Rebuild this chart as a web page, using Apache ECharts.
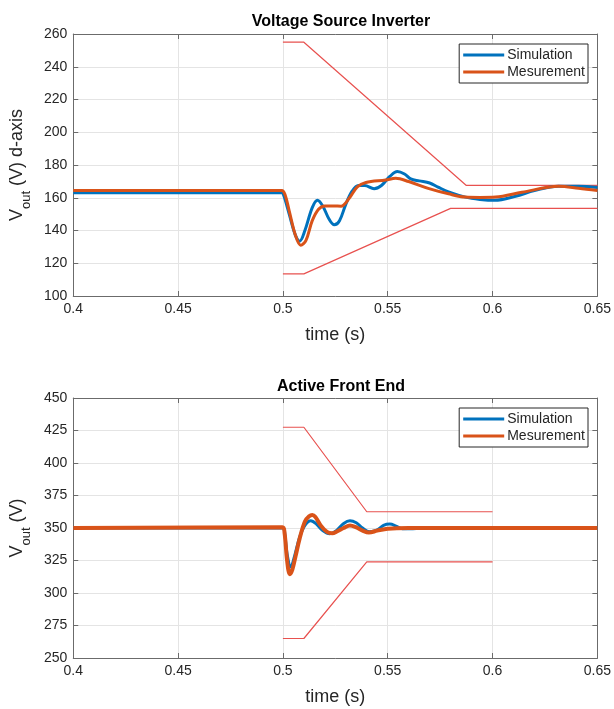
<!DOCTYPE html>
<html>
<head>
<meta charset="utf-8">
<script src="https://cdn.jsdelivr.net/npm/echarts@6/dist/echarts.min.js"></script>
<style>html,body{margin:0;padding:0;background:#fff}#c{width:614px;height:709px}</style>
</head>
<body>
<div id="c"></div>
<script>
// ---------- DATA ----------
const titles = ['Voltage Source Inverter', 'Active Front End'];
const xTicks = [0.4, 0.45, 0.5, 0.55, 0.6, 0.65];
const yTicksTop = [100, 120, 140, 160, 180, 200, 220, 240, 260];
const yTicksBottom = [250, 275, 300, 325, 350, 375, 400, 425, 450];
const seriesNames = ['Simulation', 'Mesurement'];

// Top: Voltage Source Inverter (time s, V)
const simTop = [[0.40,163],[0.4995,163],[0.5005,161],[0.503,150],[0.506,137],[0.508,133.5],[0.5105,140],[0.514,154],[0.5165,158.5],[0.519,155],[0.522,147],[0.5245,143.5],[0.527,146],[0.530,156],[0.533,164],[0.536,167.5],[0.539,167.5],[0.5435,165.5],[0.547,167.5],[0.551,173],[0.5546,176],[0.558,174.5],[0.561,171.5],[0.565,170.3],[0.570,169],[0.574,166.5],[0.579,163.6],[0.587,160.4],[0.594,159],[0.601,158.4],[0.611,160.9],[0.620,164.4],[0.6315,167],[0.641,167],[0.65,166.3]];
const measTop = [[0.40,164.5],[0.4995,164.5],[0.501,162],[0.503,152],[0.506,137],[0.5085,131],[0.511,134],[0.514,146],[0.517,153],[0.520,155],[0.524,155],[0.5277,154.8],[0.5317,159.8],[0.5355,166.6],[0.5396,169.3],[0.549,170.8],[0.5538,171.9],[0.560,169.9],[0.5697,165.6],[0.579,162.4],[0.587,160.4],[0.594,160.2],[0.6014,160.4],[0.614,163.3],[0.6315,167],[0.641,165.8],[0.65,164.4]];
const upperTop = [[0.5,255],[0.51,255],[0.5875,167.5],[0.65,167.5]];
const lowerTop = [[0.5,113.5],[0.51,113.5],[0.58,153.5],[0.65,153.5]];

// Bottom: Active Front End
const simBottom = [[0.40,350],[0.5,350],[0.5008,347],[0.502,330],[0.5038,320],[0.5055,328],[0.508,343],[0.5105,352],[0.5133,355.5],[0.516,353],[0.519,348],[0.5223,345.5],[0.5255,348],[0.529,353.5],[0.532,355.5],[0.535,354],[0.538,350],[0.5413,347.2],[0.545,348.5],[0.548,352],[0.551,353],[0.554,351.5],[0.557,349.5],[0.562,349.5],[0.57,350.3],[0.58,350],[0.65,350]];
const measBottom = [[0.40,350],[0.4998,350.5],[0.5008,346],[0.502,325],[0.5033,314.5],[0.5045,318],[0.506,328],[0.508,342],[0.5105,355],[0.5125,359],[0.514,360],[0.5155,358.5],[0.518,352],[0.521,347],[0.5235,346],[0.526,347.5],[0.529,350],[0.532,352],[0.535,350.5],[0.538,348],[0.541,346.5],[0.545,348],[0.55,349.5],[0.56,350],[0.65,350]];
const upperBottom = [[0.5,427.5],[0.51,427.5],[0.54,362.5],[0.6,362.5]];
const lowerBottom = [[0.5,265],[0.51,265],[0.54,324],[0.6,324]];

// ---------- STYLE ----------
const BLUE = '#0072BD', ORANGE = '#D95319', RED = '#E8514F';
const AX = '#6b6b6b', TXT = '#262626', GRID = '#e4e4e4';
const FONT = '"Liberation Sans", Arial, Helvetica, sans-serif';

const grids = [
  {left: 73, right: 15, top: 34, height: 262},
  {left: 73, right: 15, top: 398, height: 260}
];

function mainX(gi) {
  return {
    type: 'value', gridIndex: gi, min: xTicks[0], max: xTicks[xTicks.length-1], interval: 0.05,
    name: 'time (s)', nameLocation: 'middle', nameGap: 30,
    nameTextStyle: {fontFamily: FONT, fontSize: 18, color: TXT},
    axisLine: {show: true, lineStyle: {color: AX, width: 1}},
    axisTick: {show: true, inside: true, length: 5, lineStyle: {color: AX}},
    axisLabel: {margin: 6, fontFamily: FONT, fontSize: 14, color: TXT,
      formatter: v => String(+v.toFixed(2))},
    splitLine: {show: true, lineStyle: {color: GRID, width: 1}}
  };
}
function topX(gi) {
  return {
    type: 'value', gridIndex: gi, position: 'top', min: xTicks[0], max: xTicks[xTicks.length-1], interval: 0.05,
    axisLine: {show: true, lineStyle: {color: AX, width: 1}},
    axisTick: {show: true, inside: true, length: 5, lineStyle: {color: AX}},
    axisLabel: {show: false}, splitLine: {show: false}
  };
}
function mainY(gi, ticks, nameRich) {
  return {
    type: 'value', gridIndex: gi, min: ticks[0], max: ticks[ticks.length-1], interval: ticks[1]-ticks[0],
    name: nameRich, nameLocation: 'middle', nameRotate: 90, nameGap: 33,
    nameTextStyle: {fontFamily: FONT, color: TXT,
      rich: {
        v: {fontFamily: FONT, fontSize: 18, color: TXT, lineHeight: 32, verticalAlign: 'middle'},
        s: {fontFamily: FONT, fontSize: 13, color: TXT, lineHeight: 12, verticalAlign: 'bottom'}
      }},
    axisLine: {show: true, lineStyle: {color: AX, width: 1}},
    axisTick: {show: true, inside: true, length: 5, lineStyle: {color: AX}},
    axisLabel: {margin: 6, fontFamily: FONT, fontSize: 14, color: TXT},
    splitLine: {show: true, lineStyle: {color: GRID, width: 1}}
  };
}
function rightY(gi, ticks) {
  return {
    type: 'value', gridIndex: gi, position: 'right', min: ticks[0], max: ticks[ticks.length-1], interval: ticks[1]-ticks[0],
    axisLine: {show: true, lineStyle: {color: AX, width: 1}},
    axisTick: {show: true, inside: true, length: 5, lineStyle: {color: AX}},
    axisLabel: {show: false}, splitLine: {show: false}
  };
}

function lineSeries(name, data, xi, yi, color, width, z) {
  return {name, type: 'line', data, xAxisIndex: xi, yAxisIndex: yi,
    showSymbol: false, symbol: 'none', smooth: 0.35, animation: false, z,
    lineStyle: {color, width}, itemStyle: {color}};
}
function limitSeries(data, xi, yi) {
  return {name: 'limit', type: 'line', data, xAxisIndex: xi, yAxisIndex: yi,
    showSymbol: false, symbol: 'none', animation: false, z: 1, silent: true,
    lineStyle: {color: RED, width: 1.2}, itemStyle: {color: RED}};
}

function legendAt(top) {
  return {
    data: seriesNames, orient: 'vertical', right: 26, top,
    icon: 'rect', itemWidth: 41, itemHeight: 3, itemGap: 3,
    padding: [4, 3, 4, 4],
    borderColor: '#262626', borderWidth: 1, backgroundColor: '#fff',
    textStyle: {fontFamily: FONT, fontSize: 14, color: TXT, padding: [0,0,0,-2]},
    selectedMode: false
  };
}

const option = {
  animation: false,
  backgroundColor: '#fff',
  title: [
    {text: titles[0], left: 336, top: 9, textAlign: 'center',
     textStyle: {fontFamily: FONT, fontSize: 16, fontWeight: 'bold', color: '#000'}},
    {text: titles[1], left: 336, top: 374, textAlign: 'center',
     textStyle: {fontFamily: FONT, fontSize: 16, fontWeight: 'bold', color: '#000'}}
  ],
  grid: grids,
  xAxis: [mainX(0), topX(0), mainX(1), topX(1)],
  yAxis: [
    mainY(0, yTicksTop, '{v|V}{s|out}{v| (V) d-axis}'), rightY(0, yTicksTop),
    mainY(1, yTicksBottom, '{v|V}{s|out}{v| (V)}'), rightY(1, yTicksBottom)
  ],
  legend: [legendAt(44), legendAt(408)],
  series: [
    limitSeries(upperTop, 0, 0),
    limitSeries(lowerTop, 0, 0),
    lineSeries(seriesNames[0], simTop, 0, 0, BLUE, 3, 3),
    lineSeries(seriesNames[1], measTop, 0, 0, ORANGE, 3, 4),
    limitSeries(upperBottom, 2, 2),
    limitSeries(lowerBottom, 2, 2),
    lineSeries(seriesNames[0], simBottom, 2, 2, BLUE, 3, 3),
    lineSeries(seriesNames[1], measBottom, 2, 2, ORANGE, 4, 4)
  ]
};

const chart = echarts.init(document.getElementById('c'), null, {renderer: 'canvas'});
chart.setOption(option);
</script>
</body>
</html>
